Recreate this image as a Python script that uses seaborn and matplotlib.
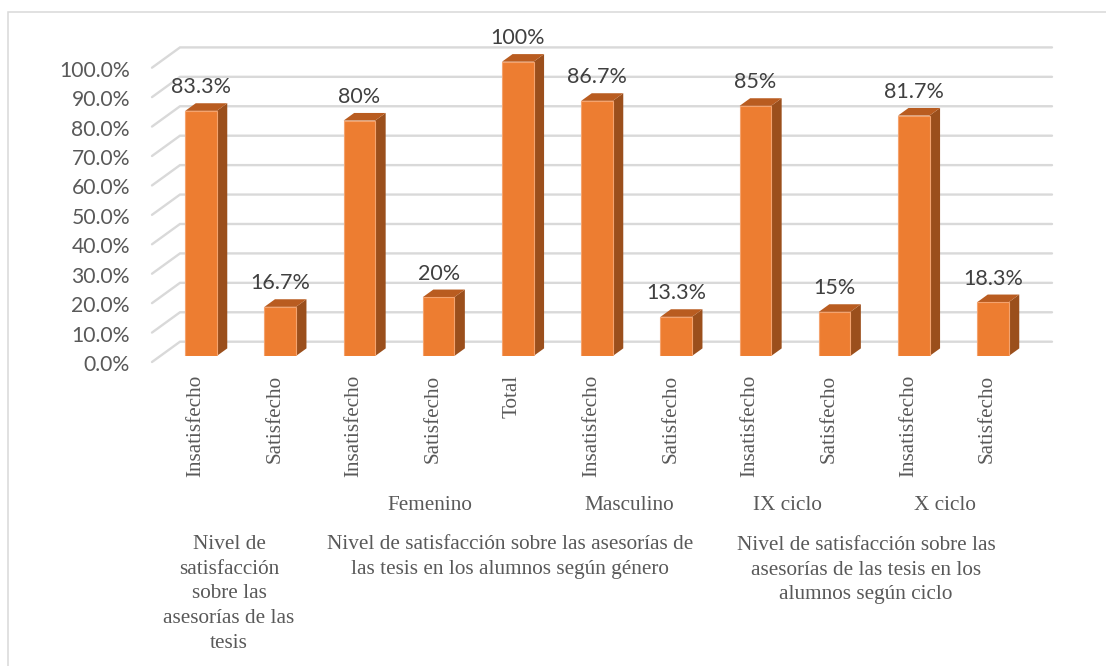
import matplotlib
matplotlib.use("Agg")
import matplotlib.pyplot as plt
import seaborn as sns
import pandas as pd
from matplotlib.lines import Line2D
from matplotlib.patches import Polygon
from matplotlib.transforms import ScaledTranslation

categories = ["Insatisfecho", "Satisfecho", "Insatisfecho", "Satisfecho", "Total",
              "Insatisfecho", "Satisfecho", "Insatisfecho", "Satisfecho",
              "Insatisfecho", "Satisfecho"]
values = [83.3, 16.7, 80, 20, 100, 86.7, 13.3, 85, 15, 81.7, 18.3]
value_labels = ["83.3%", "16.7%", "80%", "20%", "100%", "86.7%", "13.3%",
                "85%", "15%", "81.7%", "18.3%"]
y_ticks = [0, 10, 20, 30, 40, 50, 60, 70, 80, 90, 100]
subgroups = ["Femenino", "Masculino", "IX ciclo", "X ciclo"]
groups = ["Nivel de\nsatisfacción\nsobre las\nasesorías de las\ntesis",
          "Nivel de satisfacción sobre las asesorías de\nlas tesis en los alumnos según género",
          "Nivel de satisfacción sobre las\nasesorías de las tesis en los\nalumnos según ciclo"]

W, H, DPI = 1106, 666, 100
SANS = "Lato"
SERIF = "Liberation Serif"
GREY = "#595959"
ORANGE = "#ED7D31"
SIDE = "#9B4F1C"
TOP = "#B95C20"
GRID = "#D9D9D9"

sns.set_theme(style="white")
fig = plt.figure(figsize=(W / DPI, H / DPI), dpi=DPI, facecolor="white")

# pixel geometry of the front plane
PX_X0, PX_STEP = 201.0, 79.2
PX_Y0, PX_PCT = 356.0, 2.943
ax_left = PX_X0 - 0.5 * PX_STEP
ax_right = PX_X0 + 10.5 * PX_STEP
ax_top = 20.0
ax = fig.add_axes([ax_left / W, 1 - PX_Y0 / H, (ax_right - ax_left) / W, (PX_Y0 - ax_top) / H])

df = pd.DataFrame({"pos": list(range(len(values))), "value": values})
sns.barplot(data=df, x="pos", y="value", color=ORANGE, saturation=1, width=0.398,
            edgecolor="#F4A36E", linewidth=0.8, ax=ax, zorder=4)
ax.set_xlim(-0.5, 10.5)
ax.set_ylim(0, (PX_Y0 - ax_top) / PX_PCT)
ax.set_xlabel("")
ax.set_ylabel("")
for s in ax.spines.values():
    s.set_visible(False)
ax.patch.set_alpha(0)


def dx(px):
    return px / PX_STEP


def dy(px):
    return px / PX_PCT


# walls with 3-D gridlines
for v in y_ticks:
    ax.plot([dx(152 - PX_X0), dx(180 - PX_X0), dx(1052 - PX_X0)],
            [v - dy(6), v + dy(14.3), v + dy(14.3)],
            color=GRID, lw=1.7, clip_on=False, zorder=1, solid_joinstyle="miter")

# depth faces of each bar
DEP_X, DEP_Y = dx(10.5), dy(7.6)
for bar in ax.patches[:len(values)]:
    x0, x1, h = bar.get_x(), bar.get_x() + bar.get_width(), bar.get_height()
    ax.add_patch(Polygon([(x1, 0), (x1 + DEP_X, DEP_Y), (x1 + DEP_X, h + DEP_Y), (x1, h)],
                         closed=True, fc=SIDE, ec="none", clip_on=False, zorder=3))
    ax.add_patch(Polygon([(x0, h), (x0 + DEP_X, h + DEP_Y), (x1 + DEP_X, h + DEP_Y), (x1, h)],
                         closed=True, fc=TOP, ec="none", clip_on=False, zorder=3))

# value labels
for i, (v, lab) in enumerate(zip(values, value_labels)):
    ax.text(i, v + dy(23.5), lab, ha="center", va="center", family=SANS, fontsize=15.5,
            color="#404040", zorder=6, clip_on=False)

# axes ticks
ax.set_yticks(y_ticks)
ax.set_yticklabels([f"{v:.1f}%" for v in y_ticks], family=SANS, fontsize=15.2, color=GREY)
ax.tick_params(axis="y", length=0, pad=(ax_left - 130) / DPI * 72)
for lab in ax.get_yticklabels():
    lab.set_transform(lab.get_transform() + ScaledTranslation(0, -7 / DPI, fig.dpi_scale_trans))

ax.set_xticks(range(len(values)))
ax.set_xticklabels(categories, family=SERIF, fontsize=15.2, color=GREY, rotation=90, ha="center", va="top")
ax.tick_params(axis="x", length=0, pad=(375 - PX_Y0) / DPI * 72)
for lab in ax.get_xticklabels():
    lab.set_transform(lab.get_transform() + ScaledTranslation(-5.5 / DPI, 0, fig.dpi_scale_trans))


def place(px_x, px_y, text, va="center"):
    fig.text(px_x / W, 1 - px_y / H, text, ha="center", va=va, family=SERIF, fontsize=15.3,
             color=GREY, linespacing=1.41)


for px, name in zip([430, 629, 787, 945], subgroups):
    place(px, 505, name)
for px, top, name in zip([229, 510, 866], [535, 535, 536], groups):
    place(px, top, name, va="top")

# outer chart frame: only the top and left edges are visible
fig.add_artist(Line2D([7.5 / W, 7.5 / W, 1.0], [0.0, 1 - 11.5 / H, 1 - 11.5 / H],
                      transform=fig.transFigure, color=GRID, lw=1.1, solid_joinstyle="miter"))

fig.savefig("out.png", dpi=DPI)
